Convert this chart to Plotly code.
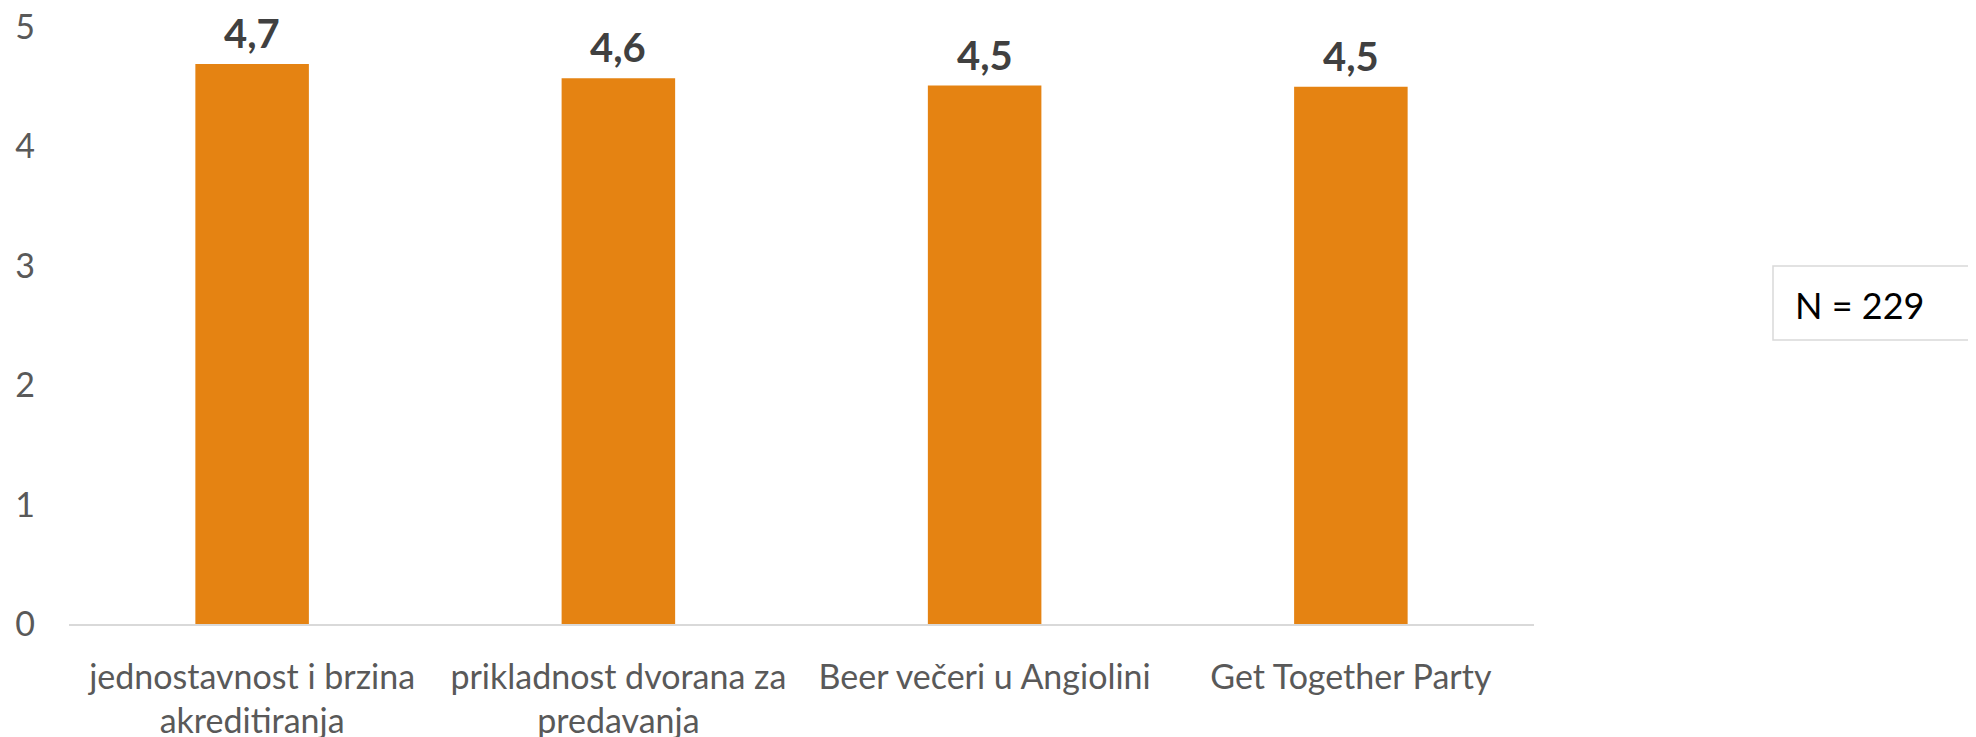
import plotly.graph_objects as go

categories = ["jednostavnost i brzina<br>akreditiranja", "prikladnost dvorana za<br>predavanja",
              "Beer večeri u Angiolini", "Get Together Party"]
values = [4.69, 4.57, 4.51, 4.50]
y_ticks = [0, 1, 2, 3, 4, 5]
note_text = "N = 229"

W, H = 1976, 737
ml, mr, mt, mb = 61, 450, 19, 121
pw, ph = W - ml - mr, H - mt - mb

fig = go.Figure(go.Bar(
    x=categories, y=values,
    marker=dict(color="#E58312", line=dict(width=0)),
    hoverinfo="x+y",
))

annotations = [dict(x=c, y=v, text=f"{v:.1f}".replace(".", ","), showarrow=False,
                    xanchor="center", yanchor="middle", yshift=31,
                    font=dict(family="Lato", size=40, color="#404040", weight="bold"))
               for c, v in zip(categories, values)]
annotations.append(dict(text=note_text, xref="paper", yref="paper",
                        x=(1785 - ml) / pw, y=(H - mb - 297) / ph,
                        xanchor="left", yanchor="middle", showarrow=False,
                        font=dict(family="Lato", size=36, color="black")))

fig.update_layout(
    width=W, height=H,
    margin=dict(l=ml, r=mr, t=mt, b=mb, autoexpand=False),
    paper_bgcolor="white", plot_bgcolor="white",
    bargap=0.69, showlegend=False,
    font=dict(family="Lato", size=34, color="#595959"),
    xaxis=dict(showline=True, linecolor="#D9D9D9", linewidth=2, ticks="", showgrid=False,
               tickfont=dict(size=34, color="#595959"), automargin=False,
               ticklabelstandoff=22),
    yaxis=dict(range=[0, 5], tickvals=y_ticks, showgrid=False, zeroline=False, showline=False,
               ticks="", tickfont=dict(size=34, color="#595959"), automargin=False,
               ticklabelstandoff=33, ticklabeloverflow="allow"),
    shapes=[dict(type="rect", xref="paper", yref="paper",
                 x0=(1765 - ml) / pw, x1=(1990 - ml) / pw,
                 y0=(H - mb - 332) / ph, y1=(H - mb - 258) / ph,
                 line=dict(color="#D9D9D9", width=1.5), fillcolor="white")],
    annotations=annotations,
)

fig.write_html("out.html")
